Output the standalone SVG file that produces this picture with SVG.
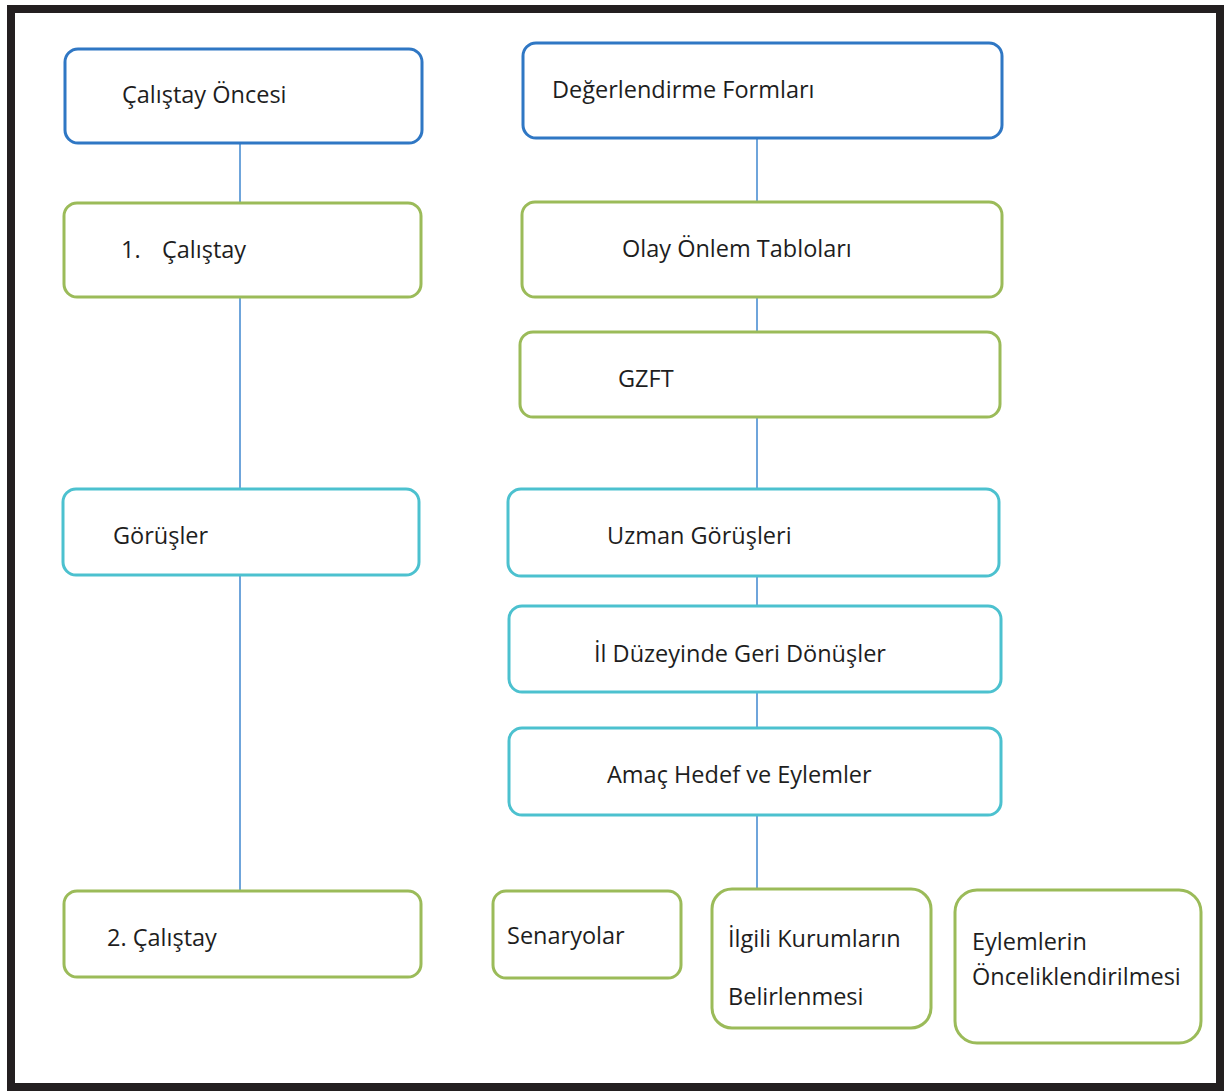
<svg xmlns="http://www.w3.org/2000/svg" width="1224" height="1091" viewBox="0 0 1224 1091">
  <style>
    .box { fill: #ffffff; stroke-width: 3; }
    .blue { stroke: #2F77C4; }
    .green { stroke: #9BBB59; }
    .cyan { stroke: #4CC1CF; }
    .lbl { font-family: "Open Sans", "Noto Sans", "Liberation Sans", sans-serif; font-size: 23.5px; fill: #1e1e1e; }
    .link { stroke: #3F87CF; stroke-width: 1.5; fill: none; }
  </style>

  <rect x="0" y="0" width="1224" height="1091" fill="#ffffff"/>
  <!-- outer frame -->
  <rect x="11" y="9" width="1209" height="1078" fill="none" stroke="#231F20" stroke-width="8"/>

  <!-- connectors -->
  <g id="connectors">
    <line class="link" x1="240" y1="143" x2="240" y2="203"/>
    <line class="link" x1="240" y1="297" x2="240" y2="489"/>
    <line class="link" x1="240" y1="575" x2="240" y2="891"/>
    <line class="link" x1="757" y1="138" x2="757" y2="202"/>
    <line class="link" x1="757" y1="297" x2="757" y2="332"/>
    <line class="link" x1="757" y1="417" x2="757" y2="489"/>
    <line class="link" x1="757" y1="576" x2="757" y2="606"/>
    <line class="link" x1="757" y1="692" x2="757" y2="728"/>
    <line class="link" x1="757" y1="815" x2="757" y2="889"/>
  </g>

  <!-- left column -->
  <g id="calistay-oncesi">
    <rect class="box blue" x="65" y="49" width="357" height="94" rx="13"/>
    <text class="lbl" x="122" y="103">Çalıştay Öncesi</text>
  </g>
  <g id="calistay-1">
    <rect class="box green" x="64" y="203" width="357" height="94" rx="13"/>
    <text class="lbl" x="121" y="258">1.</text>
    <text class="lbl" x="162" y="258">Çalıştay</text>
  </g>
  <g id="gorusler">
    <rect class="box cyan" x="63" y="489" width="356" height="86" rx="13"/>
    <text class="lbl" x="113" y="544">Görüşler</text>
  </g>
  <g id="calistay-2">
    <rect class="box green" x="64" y="891" width="357" height="86" rx="13"/>
    <text class="lbl" x="107" y="946">2. Çalıştay</text>
  </g>

  <!-- right column -->
  <g id="degerlendirme-formlari">
    <rect class="box blue" x="523" y="43" width="479" height="95" rx="13"/>
    <text class="lbl" x="552" y="98">Değerlendirme Formları</text>
  </g>
  <g id="olay-onlem-tablolari">
    <rect class="box green" x="522" y="202" width="480" height="95" rx="13"/>
    <text class="lbl" x="622" y="257">Olay Önlem Tabloları</text>
  </g>
  <g id="gzft">
    <rect class="box green" x="520" y="332" width="480" height="85" rx="13"/>
    <text class="lbl" x="618" y="387">GZFT</text>
  </g>
  <g id="uzman-gorusleri">
    <rect class="box cyan" x="508" y="489" width="491" height="87" rx="13"/>
    <text class="lbl" x="607" y="544">Uzman Görüşleri</text>
  </g>
  <g id="il-duzeyinde">
    <rect class="box cyan" x="509" y="606" width="492" height="86" rx="13"/>
    <text class="lbl" x="594" y="662">İl Düzeyinde Geri Dönüşler</text>
  </g>
  <g id="amac-hedef">
    <rect class="box cyan" x="509" y="728" width="492" height="87" rx="13"/>
    <text class="lbl" x="607" y="783">Amaç Hedef ve Eylemler</text>
  </g>

  <!-- bottom row -->
  <g id="senaryolar">
    <rect class="box green" x="493" y="891" width="188" height="87" rx="13"/>
    <text class="lbl" x="507" y="944">Senaryolar</text>
  </g>
  <g id="ilgili-kurumlar">
    <rect class="box green" x="712" y="889" width="219" height="139" rx="20"/>
    <text class="lbl" x="728" y="947">İlgili Kurumların</text>
    <text class="lbl" x="728" y="1005">Belirlenmesi</text>
  </g>
  <g id="eylem-oncelik">
    <rect class="box green" x="955" y="890" width="246" height="153" rx="22"/>
    <text class="lbl" x="972" y="950">Eylemlerin</text>
    <text class="lbl" x="972" y="985">Önceliklendirilmesi</text>
  </g>
</svg>
